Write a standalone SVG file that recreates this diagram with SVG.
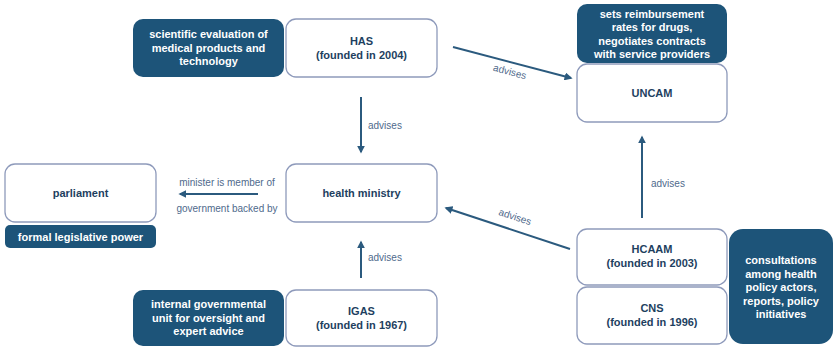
<svg xmlns="http://www.w3.org/2000/svg" width="834" height="348" viewBox="0 0 834 348">
<defs>
<style>
.w{fill:#fff;stroke:#8e9abb;stroke-width:1.3}
.d{fill:#1d5479;stroke:none}
.t{font-family:"Liberation Sans",Arial,sans-serif;font-weight:bold;font-size:11px;text-anchor:middle}
.tw{fill:#fff}
.tb{fill:#1e3f5f}
.l{font-family:"Liberation Sans",Arial,sans-serif;font-size:10px;fill:#4f6a8c}
.c{stroke:#2b5a7e;stroke-width:2;fill:none;marker-end:url(#ah)}
</style>
<marker id="ah" viewBox="0 0 10 10" refX="8" refY="5" markerWidth="4" markerHeight="4" orient="auto">
<path d="M0,0 L10,5 L0,10 z" fill="#2b5a7e"/>
</marker>
</defs>
<rect width="834" height="348" fill="#fff"/>
<g id="connectors">
<line class="c" x1="361" y1="97" x2="361" y2="152"/>
<text class="l" x="368" y="129">advises</text>
<line class="c" x1="361" y1="278" x2="361" y2="242"/>
<text class="l" x="368" y="261">advises</text>
<line class="c" x1="258" y1="194" x2="180" y2="194"/>
<text class="l" x="227" y="186" text-anchor="middle">minister is member of</text>
<text class="l" x="227" y="212" text-anchor="middle">government backed by</text>
<line class="c" x1="453" y1="47" x2="571" y2="78"/>
<text class="l" x="509" y="75" text-anchor="middle" transform="rotate(15 509 75)">advises</text>
<line class="c" x1="570" y1="249" x2="446" y2="208"/>
<text class="l" x="514" y="220" text-anchor="middle" transform="rotate(18 514 220)">advises</text>
<line class="c" x1="642" y1="218" x2="642" y2="137"/>
<text class="l" x="651" y="187">advises</text>
</g>
<g id="has-desc">
<rect class="d" x="133" y="19" width="151" height="58" rx="10"/>
<text class="t tw" x="208.5" y="38">scientific evaluation of</text>
<text class="t tw" x="208.5" y="51.5">medical products and</text>
<text class="t tw" x="208.5" y="65">technology</text>
</g>
<g id="has">
<rect class="w" x="286" y="19" width="151" height="58" rx="10"/>
<text class="t tb" x="361.5" y="45">HAS</text>
<text class="t tb" x="361.5" y="58.5">(founded in 2004)</text>
</g>
<g id="uncam-desc">
<rect class="d" x="577" y="4" width="150" height="59" rx="10"/>
<text class="t tw" x="652" y="17.5">sets reimbursement</text>
<text class="t tw" x="652" y="31">rates for drugs,</text>
<text class="t tw" x="652" y="44.5">negotiates contracts</text>
<text class="t tw" x="652" y="58">with service providers</text>
</g>
<g id="uncam">
<rect class="w" x="577" y="64" width="150" height="58" rx="10"/>
<text class="t tb" x="652" y="97">UNCAM</text>
</g>
<g id="parliament">
<rect class="w" x="5" y="164" width="151" height="58" rx="10"/>
<text class="t tb" x="80.5" y="197">parliament</text>
</g>
<g id="parliament-desc">
<rect class="d" x="5" y="225" width="151" height="23" rx="5"/>
<text class="t tw" x="80.5" y="240.5">formal legislative power</text>
</g>
<g id="health-ministry">
<rect class="w" x="286" y="164" width="151" height="58" rx="10"/>
<text class="t tb" x="361.5" y="197">health ministry</text>
</g>
<g id="igas-desc">
<rect class="d" x="133" y="290" width="151" height="56" rx="10"/>
<text class="t tw" x="208.5" y="308">internal governmental</text>
<text class="t tw" x="208.5" y="321.5">unit for oversight and</text>
<text class="t tw" x="208.5" y="335">expert advice</text>
</g>
<g id="igas">
<rect class="w" x="286" y="290" width="151" height="56" rx="10"/>
<text class="t tb" x="361.5" y="315">IGAS</text>
<text class="t tb" x="361.5" y="328.5">(founded in 1967)</text>
</g>
<g id="hcaam">
<rect class="w" x="577" y="229" width="150" height="56" rx="10"/>
<text class="t tb" x="652" y="253">HCAAM</text>
<text class="t tb" x="652" y="266.5">(founded in 2003)</text>
</g>
<g id="cns">
<rect class="w" x="577" y="287" width="150" height="57" rx="10"/>
<text class="t tb" x="652" y="312">CNS</text>
<text class="t tb" x="652" y="325.5">(founded in 1996)</text>
</g>
<g id="consult-desc">
<rect class="d" x="729" y="229" width="104" height="115" rx="14"/>
<text class="t tw" x="781" y="264">consultations</text>
<text class="t tw" x="781" y="277.5">among health</text>
<text class="t tw" x="781" y="291">policy actors,</text>
<text class="t tw" x="781" y="304.5">reports, policy</text>
<text class="t tw" x="781" y="318">initiatives</text>
</g>
</svg>
